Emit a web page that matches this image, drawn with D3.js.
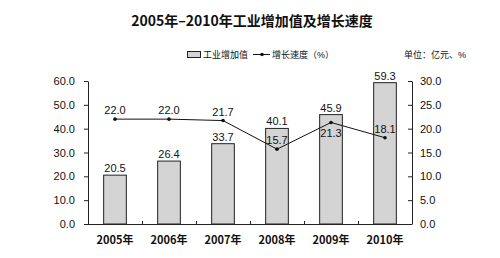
<!DOCTYPE html>
<html>
<head>
<meta charset="utf-8">
<script src="https://cdn.jsdelivr.net/npm/d3@7"></script>
<style>
  body { margin: 0; background: #fff; }
  svg text { font-family: "Liberation Sans", Arial, "Noto Sans CJK SC", sans-serif; fill: #111; }
  .cjk { font-family: "Noto Sans CJK SC", sans-serif; }
  .narrow { font-family: "Liberation Sans Narrow", "Arial Narrow", "Liberation Sans", sans-serif; }
  .axis path, .axis line { stroke: #222; }
  .axis text { font-size: 11px; }
</style>
</head>
<body>
<div id="chart"></div>
<script>
// Data
var years = ["2005年", "2006年", "2007年", "2008年", "2009年", "2010年"];
var added_value = [20.5, 26.4, 33.7, 40.1, 45.9, 59.3];   // 亿元
var growth_rate = [22.0, 22.0, 21.7, 15.7, 21.3, 18.1];   // %
var left_ticks = [0, 10, 20, 30, 40, 50, 60];
var right_ticks = [0, 5, 10, 15, 20, 25, 30];

// Variables
var chart_width = 500;
var chart_height = 258;
var plot_left = 88, plot_right = 412, plot_top = 81, plot_bottom = 224;

var svg = d3.select("#chart")
  .append("svg")
  .attr("width", chart_width)
  .attr("height", chart_height);

// Scales
var x_scale = d3.scaleBand()
  .domain(years)
  .range([plot_left, plot_right])
  .paddingInner(0.58)
  .paddingOuter(0.29);

var y_left = d3.scaleLinear().domain([0, 60]).range([plot_bottom, plot_top]);
var y_right = d3.scaleLinear().domain([0, 30]).range([plot_bottom, plot_top]);

function cx(d) { return x_scale(d) + x_scale.bandwidth() / 2; }

// Title
svg.append("text")
  .attr("class", "cjk")
  .attr("x", 252).attr("y", 26)
  .attr("text-anchor", "middle")
  .style("font-size", "14px")
  .style("font-weight", "bold")
  .text("2005年–2010年工业增加值及增长速度");

// Legend
var lg = svg.append("g").attr("class", "cjk").style("font-size", "9px");
lg.append("rect").attr("x", 187.5).attr("y", 51.5).attr("width", 13).attr("height", 6)
  .attr("fill", "#d4d4d4").attr("stroke", "#222");
lg.append("text").attr("x", 203).attr("y", 58).text("工业增加值");
lg.append("line").attr("x1", 253).attr("x2", 270).attr("y1", 54.5).attr("y2", 54.5)
  .attr("stroke", "#111");
lg.append("circle").attr("cx", 262).attr("cy", 54.5).attr("r", 1.8).attr("fill", "#111");
lg.append("text").attr("x", 272).attr("y", 58).text("增长速度（%）");
lg.append("text").attr("x", 404).attr("y", 58).text("单位：亿元、%");

// Bars
svg.selectAll("rect.bar")
  .data(added_value)
  .enter()
  .append("rect")
  .attr("class", "bar")
  .attr("x", function(d, i) { return x_scale(years[i]); })
  .attr("y", function(d) { return y_left(d); })
  .attr("width", x_scale.bandwidth())
  .attr("height", function(d) { return plot_bottom - y_left(d); })
  .attr("fill", "#d4d4d4")
  .attr("stroke", "#222")
  .attr("stroke-width", 1);

svg.selectAll("text.barlabel")
  .data(added_value)
  .enter()
  .append("text")
  .attr("class", "barlabel narrow")
  .attr("x", function(d, i) { return cx(years[i]); })
  .attr("y", function(d) { return y_left(d) - 3; })
  .attr("text-anchor", "middle")
  .style("font-size", "11px")
  .text(function(d) { return d.toFixed(1); });

// Axes
var x_axis = d3.axisBottom(x_scale).tickSize(0).tickFormat("");
svg.append("g").attr("class", "axis")
  .attr("transform", "translate(0," + plot_bottom + ")")
  .call(x_axis)
  .call(function(g) { g.select(".domain").attr("d", "M" + plot_left + ",0.5H" + plot_right); });

// small category separators
svg.append("g").selectAll("line")
  .data(years.slice(1))
  .enter()
  .append("line")
  .attr("x1", function(d) { return Math.round(x_scale(d) - x_scale.step() * 0.29) + 0.5; })
  .attr("x2", function(d) { return Math.round(x_scale(d) - x_scale.step() * 0.29) + 0.5; })
  .attr("y1", plot_bottom - 3).attr("y2", plot_bottom)
  .attr("stroke", "#222");

svg.append("g").selectAll("text")
  .data(years)
  .enter()
  .append("text")
  .attr("class", "cjk")
  .attr("x", function(d) { return cx(d); })
  .attr("y", 244)
  .attr("text-anchor", "middle")
  .style("font-size", "11px")
  .style("font-weight", "bold")
  .text(function(d) { return d; });

var y_axis_left = d3.axisLeft(y_left)
  .tickValues(left_ticks)
  .tickSize(4)
  .tickSizeOuter(0)
  .tickPadding(9)
  .tickFormat(d3.format(".1f"));
svg.append("g").attr("class", "axis")
  .attr("transform", "translate(" + plot_left + ",0)")
  .call(y_axis_left);

var y_axis_right = d3.axisRight(y_right)
  .tickValues(right_ticks)
  .tickSize(-4)
  .tickSizeOuter(0)
  .tickPadding(8)
  .tickFormat(d3.format(".1f"));
svg.append("g").attr("class", "axis")
  .attr("transform", "translate(" + plot_right + ",0)")
  .call(y_axis_right);

// Growth line
var line = d3.line()
  .x(function(d, i) { return cx(years[i]); })
  .y(function(d) { return y_right(d); });

svg.append("path")
  .datum(growth_rate)
  .attr("d", line)
  .attr("fill", "none")
  .attr("stroke", "#111")
  .attr("stroke-width", 1);

svg.selectAll("circle.pt")
  .data(growth_rate)
  .enter()
  .append("circle")
  .attr("class", "pt")
  .attr("cx", function(d, i) { return cx(years[i]); })
  .attr("cy", function(d) { return y_right(d); })
  .attr("r", 1.8)
  .attr("fill", "#111");

svg.selectAll("text.linelabel")
  .data(growth_rate)
  .enter()
  .append("text")
  .attr("class", "linelabel narrow")
  .attr("x", function(d, i) { return cx(years[i]); })
  .attr("y", function(d, i) { return i == 4 ? y_right(d) + 15 : y_right(d) - 5; })
  .attr("text-anchor", "middle")
  .style("font-size", "11px")
  .text(function(d) { return d.toFixed(1); });
</script>
</body>
</html>
